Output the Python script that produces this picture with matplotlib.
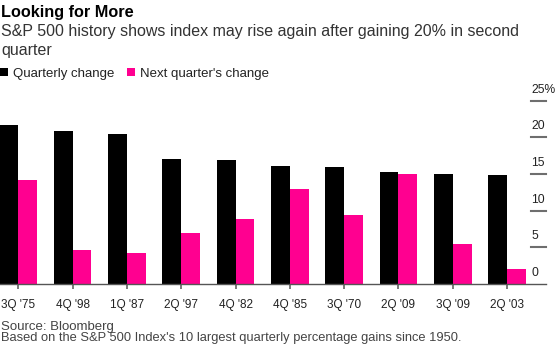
import matplotlib
matplotlib.use("Agg")
import matplotlib.pyplot as plt
import matplotlib.transforms as mtransforms
import numpy as np

plt.rcParams['font.family'] = ['Liberation Sans', 'DejaVu Sans']

# data (percent)
quarters = ["3Q '75", "4Q '98", "1Q '87", "2Q '97", "4Q '82",
            "4Q '85", "3Q '70", "2Q '09", "3Q '09", "2Q '03"]
quarterly_change = [21.7, 20.9, 20.5, 17.0, 16.9, 16.1, 15.9, 15.3, 15.0, 14.9]
next_quarter_change = [14.2, 4.6, 4.2, 7.0, 8.8, 13.0, 9.4, 15.0, 5.4, 2.1]
yticks = [0, 5, 10, 15, 20, 25]
ytick_labels = ['0', '5', '10', '15', '20', '25%']

W, H = 559, 344
fig = plt.figure(figsize=(W / 100, H / 100), dpi=100)
ax = fig.add_axes([0, 60 / H, 546 / W, (284 - 100.7) / H])

pink = '#ff0090'
x = np.arange(len(quarters))
w = 0.347
b1 = ax.bar(x - w / 2, quarterly_change, w, color='black', label='Quarterly change')
b2 = ax.bar(x + w / 2, next_quarter_change, w, color=pink, label="Next quarter's change")

ax.set_xlim(-0.338, 9.718)
ax.set_ylim(0, 25)

for s in ['top', 'left', 'right']:
    ax.spines[s].set_visible(False)
ax.spines['bottom'].set_color('#555555')
ax.spines['bottom'].set_linewidth(1)
ax.spines['bottom'].set_zorder(3)

ax.set_xticks(x)
ax.set_xticklabels(quarters)
ax.tick_params(axis='x', length=3.5, width=1.1, color='#555555', pad=7.5,
               labelsize=8.5, labelcolor='#222222')

# short tick lines at the right, labels sitting above them
ax.yaxis.tick_right()
ax.set_yticks(yticks)
ax.set_yticklabels(ytick_labels)
ax.tick_params(axis='y', length=0, pad=0, labelsize=8.7, labelcolor='#222222')
for yv in yticks[1:]:
    ax.axhline(yv, xmin=531 / 546, xmax=1.0, color='#6e6e6e', linewidth=1.5,
               clip_on=False, zorder=5)
shift = mtransforms.ScaledTranslation(-15 / 100, 5 / 100, fig.dpi_scale_trans)
for lab in ax.get_yticklabels():
    lab.set_transform(lab.get_transform() + shift)
    lab.set_va('bottom')
    lab.set_ha('left')
    lab.set_clip_on(False)

def fy(px):
    return 1 - px / H

fig.text(0.002, fy(16.7), 'Looking for More', fontsize=11.7, fontweight='bold',
         color='black', va='baseline')
fig.text(0.002, fy(36), 'S&P 500 history shows index may rise again after gaining 20% in second',
         fontsize=11.5, color='#333333', va='baseline')
fig.text(0.002, fy(55), 'quarter', fontsize=11.5, color='#333333', va='baseline')

fig.legend(handles=[b1, b2], loc='lower left', bbox_to_anchor=(0.0, fy(79.5)),
           ncol=2, frameon=False, fontsize=9.5, handlelength=0.6, handleheight=0.6,
           handletextpad=0.38, columnspacing=0.95, borderpad=0, borderaxespad=0,
           labelcolor='#222222')

fig.text(0.002, fy(330), 'Source: Bloomberg', fontsize=9.5, color='#444444', va='baseline')
fig.text(0.002, fy(341), "Based on the S&P 500 Index's 10 largest quarterly percentage gains since 1950.",
         fontsize=9.3, color='#444444', va='baseline')

fig.savefig('out.png', dpi=100)
